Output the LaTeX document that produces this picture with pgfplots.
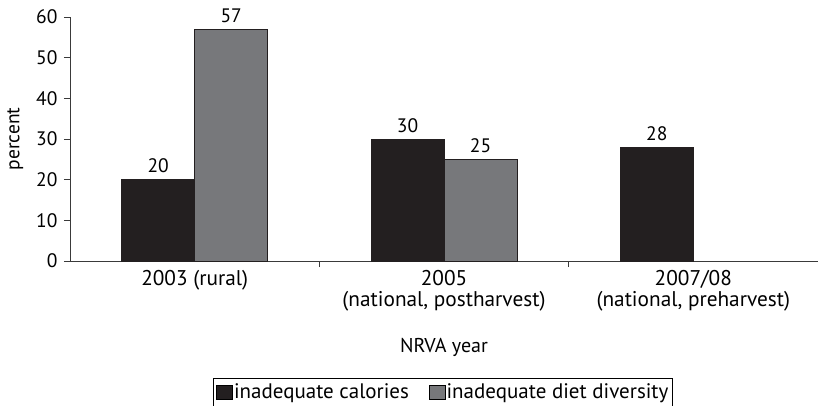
\documentclass[border=0pt]{standalone}
\usepackage{fontspec}
\setmainfont{PT Sans}
\usepackage{pgfplots}
\pgfplotsset{compat=1.18}
\definecolor{barblack}{HTML}{231F20}
\definecolor{bargray}{HTML}{77787B}
\definecolor{axisc}{HTML}{3A3A3A}
\begin{document}
\fontsize{19pt}{23pt}\selectfont
\begin{tikzpicture}[x=1pt,y=1pt]
\begin{axis}[
  at={(70pt,144pt)}, anchor=south west,
  scale only axis, width=748pt, height=244pt,
  ybar=0pt, bar width=73pt,
  xmin=-0.5, xmax=2.5, ymin=0, ymax=60,
  ytick={0,10,...,60},
  xtick={0.5,1.5}, xticklabels={},
  extra x ticks={0,1,2},
  extra x tick labels={{2003 (rural)},{2005\\(national, postharvest)},{2007/08\\(national, preharvest)}},
  extra x tick style={major tick length=0pt, tick label style={yshift=-3pt}},
  x tick label style={align=center, font=\fontsize{21.3pt}{20.5pt}\selectfont},
  y tick label style={font=\fontsize{19.5pt}{22pt}\selectfont},
  axis lines*=left,
  axis line style={draw=axisc, line width=0.8pt, -},
  tick style={draw=axisc, line width=0.8pt},
  major tick length=6pt, tick align=outside,
  /pgf/number format/assume math mode=true,
  ylabel={percent},
  ylabel style={font=\fontsize{19.5pt}{22pt}\selectfont},
  xlabel={NRVA year},
  xlabel style={at={(axis description cs:0.5,0)}, anchor=center, yshift=-86pt, font=\fontsize{20pt}{24pt}\selectfont},
  nodes near coords,
  every node near coord/.append style={text=black, font=\fontsize{19.5pt}{22pt}\selectfont},
  legend columns=2,
  legend style={at={(0.1912,-0.4795)}, anchor=north west, draw=black, line width=0.8pt,
    inner xsep=3pt, inner ysep=3pt, font=\fontsize{21pt}{24pt}\selectfont,
    /tikz/column 2/.style={column sep=19pt},
    nodes={inner xsep=1pt, inner ysep=2pt}},
]
\addplot[fill=barblack, draw=barblack, line width=0.6pt,
  legend image code/.code={\draw[fill=barblack, draw=black, line width=0.6pt] (0pt,-7pt) rectangle (16pt,7pt);}]
  coordinates {(0,20) (1,30) (2,28)};
\addlegendentry{inadequate calories}
\addplot[fill=bargray, draw=barblack, line width=0.6pt,
  legend image code/.code={\draw[fill=bargray, draw=black, line width=0.6pt] (0pt,-7pt) rectangle (16pt,7pt);}]
  coordinates {(0,57) (1,25)};
\addlegendentry{inadequate diet diversity}
\end{axis}
\pgfresetboundingbox
\path[use as bounding box] (0,0) rectangle (820,405);
\end{tikzpicture}
\end{document}
